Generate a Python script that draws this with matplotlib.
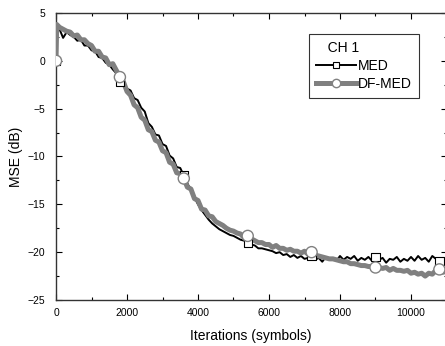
import numpy as np
import matplotlib
matplotlib.use("Agg")
import matplotlib.pyplot as plt
from matplotlib.lines import Line2D

plt.rcParams['font.family'] = ['Liberation Sans', 'DejaVu Sans']

# iterations (symbols): first sample at 0, then every 100 symbols
iterations = [0, 20] + list(range(100, 11001, 100))

# MSE (dB) of MED (black)
mse_med = [
    0.0, 3.6,
    3.3, 2.4, 3.0, 2.7, 2.5, 2.1, 2.2, 1.6, 1.6, 1.1,
    1.0, 0.4, 0.3, -0.2, -0.4, -0.9, -1.3, -2.2, -2.3, -2.9,
    -3.1, -3.9, -4.1, -4.9, -5.3, -6.5, -6.9, -7.7, -7.8, -8.7,
    -8.9, -9.9, -10.2, -11.1, -11.2, -12.0, -12.8, -13.5, -14.3, -15.0,
    -15.6, -16.1, -16.6, -17.0, -17.3, -17.6, -17.8, -18.0, -18.2, -18.3,
    -18.5, -18.7, -18.8, -19.0, -19.2, -19.3, -19.6, -19.6, -19.7, -19.8,
    -19.9, -20.1, -20.0, -20.3, -20.2, -20.5, -20.3, -20.6, -20.4, -20.7,
    -20.6, -20.4, -20.8, -20.6, -21.0, -20.5, -20.8, -20.6, -20.9, -20.4,
    -20.8, -20.5, -20.7, -20.4, -20.9, -20.6, -20.8, -20.5, -20.9, -20.5,
    -20.8, -20.6, -21.1, -20.7, -20.8, -20.5, -21.0, -20.7, -20.9, -20.5,
    -20.9, -20.4, -20.8, -20.6, -21.0, -20.4, -20.7, -20.9, -20.6, -21.0,
]

# MSE (dB) of DF-MED (gray)
mse_dfmed = [
    0.0, 3.8,
    3.5, 3.3, 3.1, 3.0, 2.6, 2.7, 2.2, 2.2, 1.8, 1.6,
    1.0, 1.0, 0.4, 0.3, -0.4, -0.3, -1.0, -1.7, -2.2, -3.2,
    -3.6, -4.6, -4.9, -5.9, -6.2, -7.2, -7.4, -8.3, -8.5, -9.4,
    -9.6, -10.6, -10.8, -11.7, -11.8, -12.3, -13.2, -13.4, -14.4, -14.6,
    -15.5, -15.6, -16.2, -16.3, -16.8, -17.0, -17.2, -17.5, -17.7, -17.8,
    -18.0, -18.1, -18.5, -18.3, -18.6, -18.8, -19.0, -19.0, -19.2, -19.2,
    -19.5, -19.3, -19.6, -19.6, -19.8, -19.7, -19.9, -19.9, -20.1, -19.9,
    -20.2, -20.0, -20.3, -20.4, -20.5, -20.6, -20.7, -20.7, -20.8, -20.9,
    -21.0, -21.0, -21.2, -21.2, -21.3, -21.4, -21.4, -21.5, -21.5, -21.6,
    -21.6, -21.7, -21.6, -21.9, -21.7, -21.9, -21.9, -22.0, -21.9, -22.2,
    -22.1, -22.3, -22.2, -22.5, -22.2, -22.3, -21.9, -21.8, -22.1, -22.0,
]

# symbols are drawn every 1800 iterations
marker_iters = [0, 1800, 3600, 5400, 7200, 9000, 10800]
mark_idx = [iterations.index(m) for m in marker_iters]
mx = [iterations[i] for i in mark_idx]
n = len(mx)

fig = plt.figure(figsize=(4.45, 3.46), dpi=100)
ax = fig.add_axes([56 / 445, 46 / 346, 390.5 / 445, 287 / 346])

ax.plot(iterations, mse_med, color='black', lw=1.4, zorder=2)
ax.plot(iterations, mse_dfmed, color='#808080', lw=3.6, zorder=3)
# per-point colour lists keep the symbols on the clipped collection path
ax.scatter(mx, [mse_med[i] for i in mark_idx], s=36, marker='s', facecolor=['white'] * n,
           edgecolor=['black'] * n, linewidths=0.8, zorder=4)
ax.scatter(mx, [mse_dfmed[i] for i in mark_idx], s=64, marker='o', facecolor=['white'] * n,
           edgecolor=['#808080'] * n, linewidths=1.0, zorder=5)

ax.set_xlim(0, 11000)
ax.set_ylim(-25, 5)
ax.set_xticks([0, 2000, 4000, 6000, 8000, 10000])
ax.set_xticks(np.arange(1000, 11000, 2000), minor=True)
ax.set_yticks([-25, -20, -15, -10, -5, 0, 5])
ax.set_yticks(np.arange(-22.5, 5, 5), minor=True)
ax.tick_params(which='both', direction='in', top=True, right=True, labelsize=7.5, width=0.8)
ax.tick_params(which='major', length=4)
ax.tick_params(which='minor', length=2.5)
ax.tick_params(axis='x', pad=6)
ax.tick_params(axis='y', pad=8)
for s in ax.spines.values():
    s.set_linewidth(1.0)
    s.set_color('#333333')

ax.set_xlabel('Iterations (symbols)', fontsize=10, labelpad=8)
ax.set_ylabel('MSE (dB)', fontsize=10, labelpad=3)

handles = [
    Line2D([], [], color='black', lw=1.4, marker='s', ms=4.5, mfc='white', mec='black', mew=0.8),
    Line2D([], [], color='#808080', lw=3.6, marker='o', ms=6, mfc='white', mec='#808080', mew=1.0),
]
leg = ax.legend(handles, ['MED', 'DF-MED'], title='   CH 1', loc='upper left',
                bbox_to_anchor=(309 / 445, 1 - 34 / 346),
                bbox_transform=fig.transFigure, fontsize=10, title_fontsize=10,
                frameon=True, fancybox=False, edgecolor='black', handlelength=2.9,
                handletextpad=0.15, numpoints=1, borderpad=0.5,
                labelspacing=0.3, borderaxespad=0)
leg._legend_box.align = 'left'
leg.get_frame().set_linewidth(0.8)

fig.savefig('out.png', dpi=100)
